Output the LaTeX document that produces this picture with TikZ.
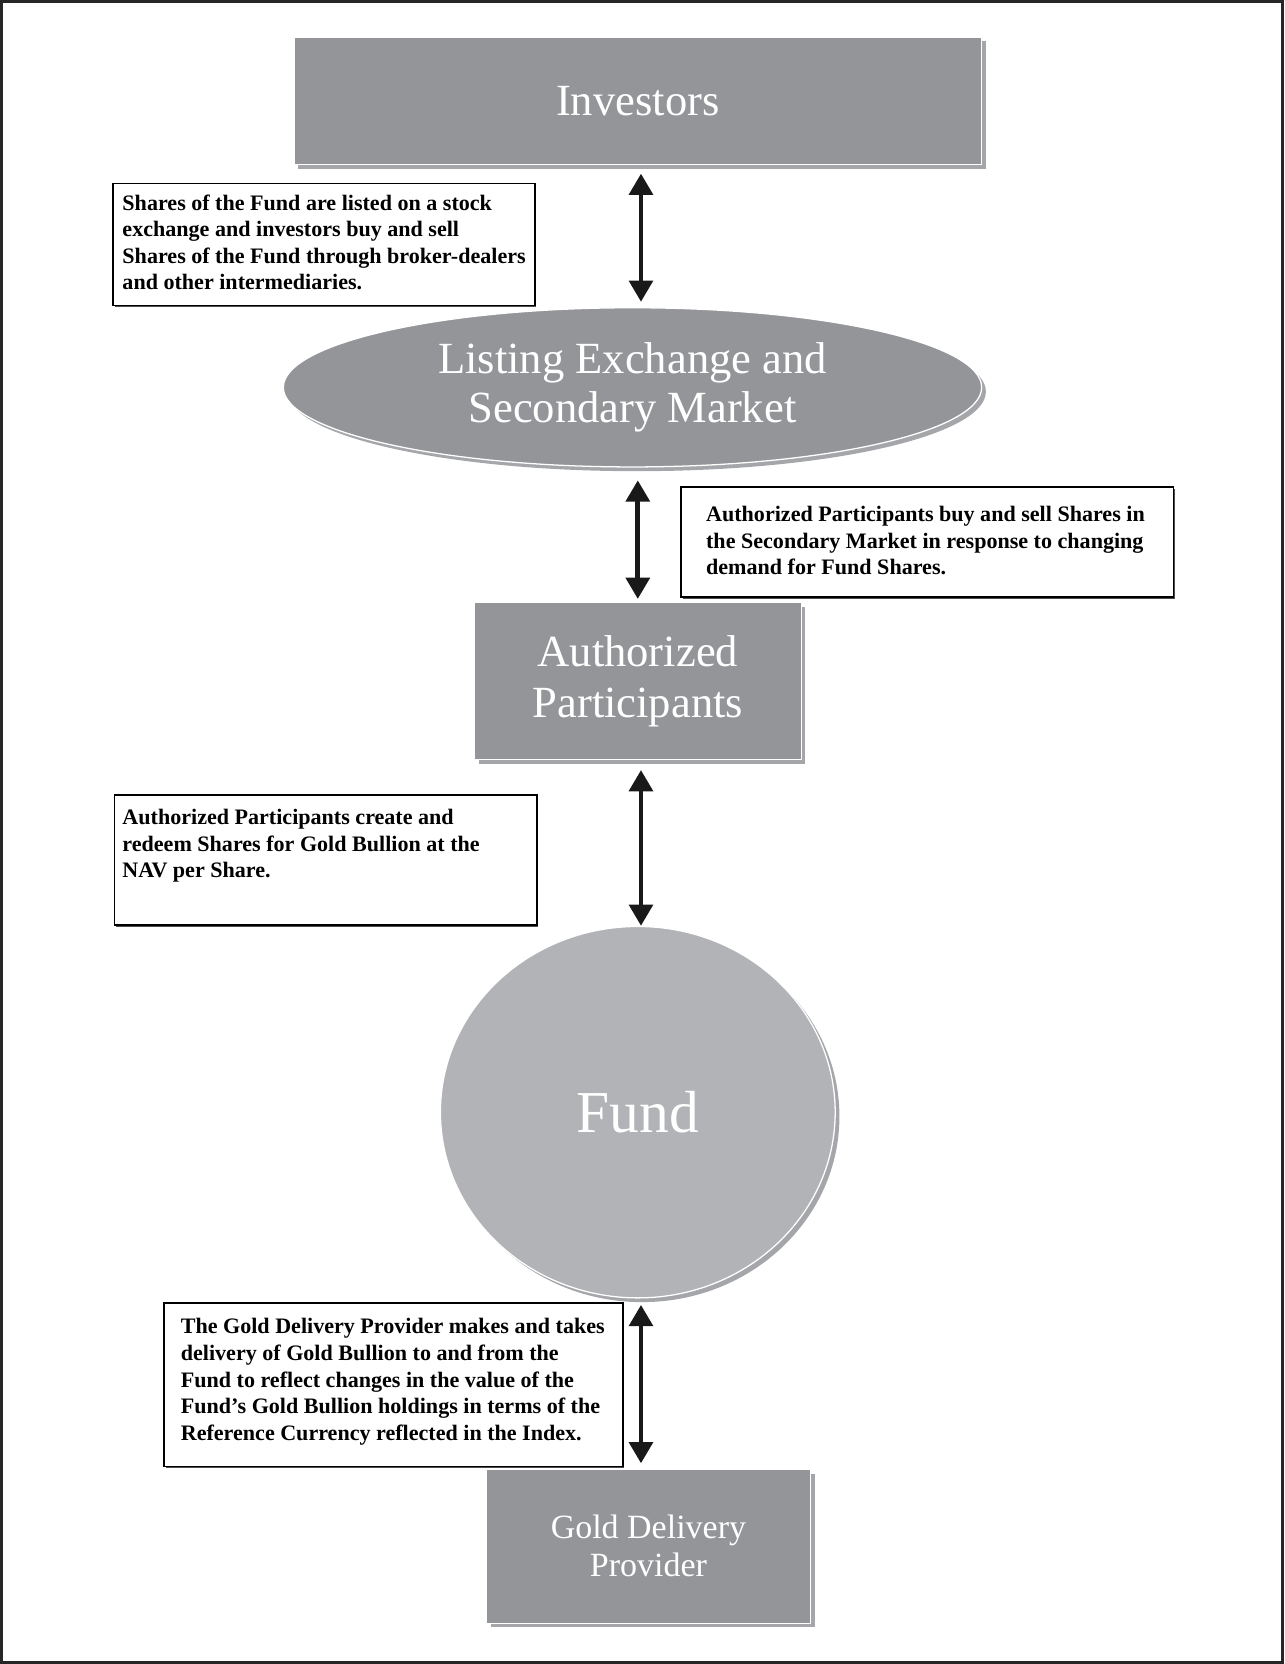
\documentclass[tikz,border=0pt]{standalone}
\usepackage{fontspec}
\setmainfont{Liberation Serif}
\usetikzlibrary{arrows.meta,shapes.geometric,shadows}
\definecolor{boxgray}{HTML}{939598}
\definecolor{fundgray}{HTML}{B1B3B6}
\definecolor{shadowgray}{HTML}{A4A6A9}
\begin{document}
\begin{tikzpicture}[x=0.5pt,y=-0.5pt,
  shd/.style={drop shadow={shadow xshift=2pt,shadow yshift=-2pt,fill=shadowgray,opacity=1}},
  entity/.style={shd,fill=boxgray,draw=white,line width=0.6pt,text=white,align=center,inner sep=0pt},
  note/.style={draw=black,line width=0.8pt,fill=white,anchor=north west,inner sep=0pt,
     drop shadow={shadow xshift=0.8pt,shadow yshift=-0.8pt,fill=black!70,opacity=1}},
  notetext/.style={anchor=west,align=left,inner sep=0pt,font=\bfseries\fontsize{10.4}{12.5}\selectfont},
  flow/.style={{Triangle[width=11pt,length=10pt]}-{Triangle[width=11pt,length=10pt]},line width=2.3pt,draw=black!90}
]
\useasboundingbox (0,0) rectangle (1210,1568);
\draw[line width=1.5pt,black!85] (1.5,1.5) rectangle (1208.5,1566.5);

% entities
\node[entity,minimum width=324pt,minimum height=60pt,font=\fontsize{21}{24}\selectfont] (inv) at (601,95) {Investors};
\node[entity,ellipse,minimum width=329pt,minimum height=75pt,font=\fontsize{21}{23.5}\selectfont] (lst) at (596,365) {Listing Exchange and\\Secondary Market};
\node[entity,minimum width=154pt,minimum height=74pt,font=\fontsize{21}{24}\selectfont] (ap) at (601,642) {Authorized\\Participants};
\node[entity,fill=fundgray,ellipse,minimum width=186pt,minimum height=175pt,font=\fontsize{28}{30}\selectfont] (fund) at (601,1048) {Fund};
\node[entity,minimum width=152.5pt,minimum height=72.5pt,font=\fontsize{16}{18}\selectfont] (gdp) at (611,1457) {Gold Delivery\\Provider};

% notes
\node[note,minimum width=198.5pt,minimum height=57.5pt] (b1) at (106,172) {};
\node[notetext] (t1) at (115,228.5) {Shares of the Fund are listed on a stock\\exchange and investors buy and sell\\Shares of the Fund through broker-dealers\\and other intermediaries.};

\node[note,minimum width=232pt,minimum height=52pt] (b2) at (641,458) {};
\node[notetext] (t2) at (665,509.5) {Authorized Participants buy and sell Shares in\\the Secondary Market in response to changing\\demand for Fund Shares.};

\node[note,minimum width=199pt,minimum height=61.5pt] (b3) at (107,748) {};
\node[notetext] (t3) at (115,797) {Authorized Participants create and\\redeem Shares for Gold Bullion at the\\NAV per Share.};

\node[note,minimum width=216pt,minimum height=77pt] (b4) at (154,1227) {};
\node[notetext] (t4) at (170,1302) {The Gold Delivery Provider makes and takes\\delivery of Gold Bullion to and from the\\Fund to reflect changes in the value of the\\Fund’s Gold Bullion holdings in terms of the\\Reference Currency reflected in the Index.};

% connectors
\draw[flow,shorten <=4pt,shorten >=2.5pt] ([xshift=1.5pt]inv.south) -- ([xshift=1.5pt]inv.south |- lst.north);
\draw[flow,shorten <=6pt,shorten >=1.5pt] (ap.north |- lst.south) -- (ap.north);
\draw[flow,shorten <=4.5pt,shorten >=0pt] ([xshift=1.5pt]ap.south) -- ([xshift=1.5pt]ap.south |- fund.north);
\draw[flow,shorten <=3pt,shorten >=2.5pt] ([xshift=1.5pt]fund.south) -- ([xshift=1.5pt]fund.south |- gdp.north);
\end{tikzpicture}
\end{document}
